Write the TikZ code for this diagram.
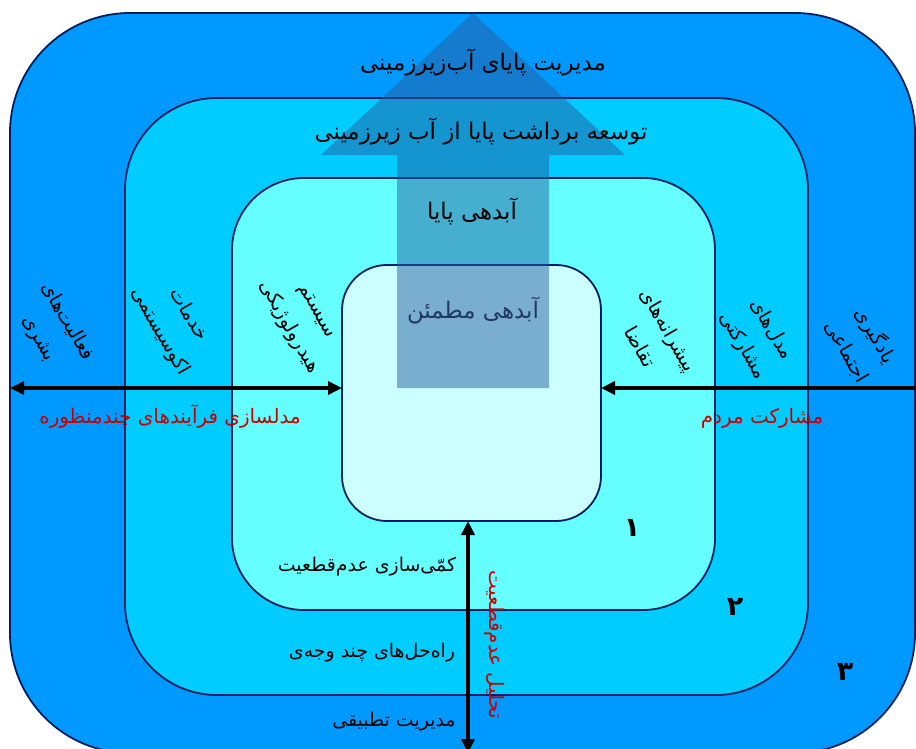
\documentclass[tikz,border=0pt]{standalone}
\usepackage{fontspec}
\newfontfamily\fa[Script=Arabic]{DejaVu Sans}
\TeXXeTstate=1
\usetikzlibrary{arrows.meta}
\definecolor{bord}{RGB}{0,32,96}
\definecolor{cthree}{RGB}{0,153,255}
\definecolor{ctwo}{RGB}{0,204,255}
\definecolor{cone}{RGB}{102,255,255}
\definecolor{czero}{RGB}{204,255,255}
\definecolor{arrowc}{RGB}{40,95,160}
\definecolor{redt}{RGB}{200,0,0}
\definecolor{innert}{RGB}{31,56,100}
\newcommand{\rtl}[1]{\beginR #1\endR}
\begin{document}
\begin{tikzpicture}[x=1bp,y=-1bp,
  layer/.style={draw=bord, line width=1.8bp, rectangle, inner sep=0pt, outer sep=0pt},
  lbl/.style={font=\fa\fontsize{19}{24}\selectfont, inner sep=0pt, text=black},
  biglbl/.style={lbl, font=\fa\fontsize{23}{28}\selectfont},
  rot/.style={lbl, align=center, rotate=-60, font=\fa\fontsize{19.5}{33}\selectfont},
  redl/.style={lbl, text=redt, font=\fa\fontsize{20}{24}\selectfont},
  num/.style={inner sep=0pt, font=\fa\bfseries\fontsize{27}{30}\selectfont},
  dbl/.style={{Triangle[length=14bp,width=13bp]}-{Triangle[length=14bp,width=13bp]}, line width=3.5bp, draw=black}
]
\useasboundingbox (0,0) rectangle (916,749);
% nested layers
\node[layer, fill=cthree, minimum width=905bp, minimum height=740bp, rounded corners=120bp] (b3) at (462.5,383) {};
\node[layer, fill=ctwo, minimum width=683bp, minimum height=597bp, rounded corners=92bp] (b2) at (466.5,396.5) {};
\node[layer, fill=cone, minimum width=483bp, minimum height=432bp, rounded corners=72bp] (b1) at (473.5,394) {};
\node[layer, fill=czero, minimum width=259bp, minimum height=256bp, rounded corners=45bp] (inner) at (471.5,393) {};
% big translucent arrow
\fill[arrowc, fill opacity=0.5] (397,388) -- (397,155) -- (321,155) -- (473,13) -- (625,155) -- (549,155) -- (549,388) -- cycle;
% double arrows
\coordinate (Lend) at (10,388);
\coordinate (Rend) at (930,388);
\coordinate (Bend) at (468,753);
\draw[dbl] (Lend) -- (inner.west |- Lend);
\draw[dbl] (inner.east |- Rend) -- (Rend);
\draw[dbl] (inner.south -| Bend) -- (Bend);
% central texts
\node[biglbl] (t1) at (483,63) {\rtl{مدیریت پایای آب‌زیرزمینی}};
\node[biglbl] (t2) at (481,132) {\rtl{توسعه برداشت پایا از آب زیرزمینی}};
\node[biglbl] (t3) at (472,212) {\rtl{آبدهی پایا}};
\node[biglbl, text=innert] (t4) at (473,311) {\rtl{آبدهی مطمئن}};
% rotated side texts
\node[rot] (s1) at (53,330) {\rtl{فعالیت‌های}\\\rtl{بشری}};
\node[rot] (s2) at (174,323) {\rtl{خدمات}\\\rtl{اکوسیستمی}};
\node[rot] (s3) at (301,320) {\rtl{سیستم}\\\rtl{هیدرولوژیکی}};
\node[rot] (s4) at (655,338) {\rtl{پیشرانه‌های}\\\rtl{تقاضا}};
\node[rot] (s5) at (757,338) {\rtl{مدل‌های}\\\rtl{مشارکتی}};
\node[rot] (s6) at (862,343) {\rtl{یادگیری}\\\rtl{اجتماعی}};
% red labels
\node[redl] (r1) at (170,417) {\rtl{مدلسازی فرآیندهای چندمنظوره}};
\node[redl] (r2) at (762,418) {\rtl{مشارکت مردم}};
\node[redl, rotate=-90] (r3) at (495,645) {\rtl{تحلیل عدم‌قطعیت}};
% bottom texts
\node[lbl] (u1) at (367,567) {\rtl{کمّی‌سازی عدم‌قطعیت}};
\node[lbl] (u2) at (372,653) {\rtl{راه‌حل‌های چند وجه‌ی}};
\node[lbl] (u3) at (394,722) {\rtl{مدیریت تطبیقی}};
% numbers
\node[num] (n1) at (632,528) {۱};
\node[num] (n2) at (735,607) {۲};
\node[num] (n3) at (845,672) {۳};
\end{tikzpicture}
\end{document}
